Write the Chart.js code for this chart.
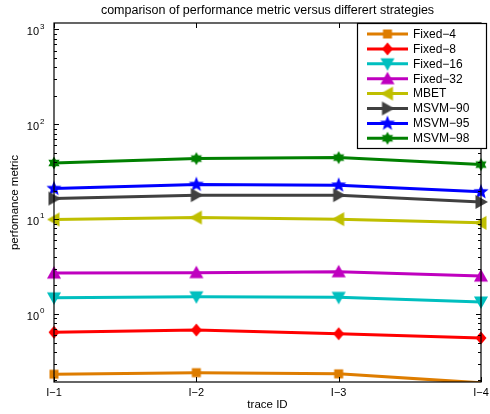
<!DOCTYPE html>
<html>
<head>
<meta charset="utf-8">
<script src="https://cdn.jsdelivr.net/npm/chart.js@4/dist/chart.umd.min.js"></script>
<style>
  html, body { margin: 0; padding: 0; background: #fff; }
  #wrap { width: 490px; height: 414px; }
</style>
</head>
<body>
<div id="wrap"><canvas id="chart" width="490" height="414"></canvas></div>
<script>
// data
const traces = ["I−1", "I−2", "I−3", "I−4"];
const seriesNames = ["Fixed−4", "Fixed−8", "Fixed−16", "Fixed−32", "MBET", "MSVM−90", "MSVM−95", "MSVM−98"];

const fixed4  = [0.232, 0.241, 0.234, 0.188];
const fixed8  = [0.642, 0.678, 0.620, 0.559];
const fixed16 = [1.48, 1.52, 1.50, 1.34];
const fixed32 = [2.70, 2.73, 2.79, 2.51];
const mbet    = [9.93, 10.4, 10.0, 9.14];
const msvm90  = [16.5, 17.9, 17.9, 15.2];
const msvm95  = [21.0, 23.2, 22.8, 19.4];
const msvm98  = [39.1, 43.5, 44.6, 37.6];

const yTicks = [1, 10, 100, 1000];
const yMin = 0.192;
const yMax = 1170;

const FONT = "Liberation Sans, Arial, Helvetica, sans-serif";

function makeMarker(shape, color) {
    const c = document.createElement("canvas");
    c.width = 20;
    c.height = 20;
    const g = c.getContext("2d");
    g.fillStyle = color;
    g.translate(10, 10);
    g.beginPath();
    if (shape === "square") {
        g.rect(-4.5, -4.5, 9, 9);
    } else if (shape === "diamond") {
        g.moveTo(0, -6.5); g.lineTo(5.5, 0); g.lineTo(0, 6.5); g.lineTo(-5.5, 0);
    } else if (shape.startsWith("tri")) {
        const rot = { triUp: 0, triDown: Math.PI, triLeft: -Math.PI / 2, triRight: Math.PI / 2 }[shape];
        g.rotate(rot);
        g.moveTo(0, -7); g.lineTo(7, 5.5); g.lineTo(-7, 5.5);
    } else if (shape === "star5" || shape === "star6") {
        const n = shape === "star5" ? 5 : 6;
        const ro = shape === "star5" ? 8 : 6.5;
        const ri = shape === "star5" ? 3.4 : 3.8;
        for (let i = 0; i < n * 2; i++) {
            const r = i % 2 ? ri : ro;
            const a = -Math.PI / 2 + i * Math.PI / n;
            const px = Math.cos(a) * r, py = Math.sin(a) * r;
            if (i === 0) g.moveTo(px, py); else g.lineTo(px, py);
        }
    }
    g.closePath();
    g.fill();
    return c;
}

const styles = [
    { color: "rgb(222,125,0)", shape: "square" },
    { color: "rgb(255,0,0)", shape: "diamond" },
    { color: "rgb(0,191,191)", shape: "triDown" },
    { color: "rgb(191,0,191)", shape: "triUp" },
    { color: "rgb(191,191,0)", shape: "triLeft" },
    { color: "rgb(64,64,64)", shape: "triRight" },
    { color: "rgb(0,0,255)", shape: "star5" },
    { color: "rgb(0,128,0)", shape: "star6" }
];
const values = [fixed4, fixed8, fixed16, fixed32, mbet, msvm90, msvm95, msvm98];

const datasets = values.map((v, i) => {
    const marker = makeMarker(styles[i].shape, styles[i].color);
    return {
        label: seriesNames[i],
        data: v,
        borderColor: styles[i].color,
        backgroundColor: styles[i].color,
        borderWidth: 3,
        pointStyle: marker,
        marker: marker,
        pointRadius: ctx => (ctx.raw < yMin ? 0 : 6),
        tension: 0,
        clip: { left: 12, top: 12, right: 12, bottom: 0 }
    };
});

const frame = {
    id: "frame",
    afterDraw(chart) {
        const ctx = chart.ctx;
        const a = chart.chartArea;
        const x = chart.scales.x;
        const y = chart.scales.y;
        ctx.save();
        ctx.strokeStyle = "#000";
        ctx.fillStyle = "#000";
        ctx.lineWidth = 1.2;
        ctx.strokeRect(a.left, a.top, a.right - a.left, a.bottom - a.top);

        // y ticks, major and minor, both sides
        ctx.lineWidth = 1;
        for (let d = -1; d <= 3; d++) {
            for (let m = 1; m <= 9; m++) {
                const v = m * Math.pow(10, d);
                if (v < yMin || v > yMax) continue;
                const py = Math.round(y.getPixelForValue(v)) + 0.5;
                const len = m === 1 ? 5 : 3;
                ctx.beginPath();
                ctx.moveTo(a.left, py); ctx.lineTo(a.left + len, py);
                ctx.moveTo(a.right, py); ctx.lineTo(a.right - len, py);
                ctx.stroke();
            }
        }
        // x ticks top and bottom
        traces.forEach((t, i) => {
            const px = Math.round(x.getPixelForValue(i)) + 0.5;
            ctx.beginPath();
            ctx.moveTo(px, a.bottom); ctx.lineTo(px, a.bottom - 5);
            ctx.moveTo(px, a.top); ctx.lineTo(px, a.top + 5);
            ctx.stroke();
        });

        // tick labels
        ctx.font = "11px " + FONT;
        ctx.textAlign = "center";
        ctx.textBaseline = "top";
        traces.forEach((t, i) => {
            ctx.fillText(t, x.getPixelForValue(i), a.bottom + 5);
        });
        yTicks.forEach(v => {
            const py = y.getPixelForValue(v);
            const exp = String(Math.round(Math.log10(v)));
            ctx.font = "11px " + FONT;
            ctx.textAlign = "right";
            ctx.textBaseline = "middle";
            ctx.fillText("10", a.left - 15, py + 3);
            ctx.font = "8px " + FONT;
            ctx.textAlign = "left";
            ctx.fillText(exp, a.left - 14, py - 3);
        });

        // title and axis labels
        ctx.font = "12.5px " + FONT;
        ctx.textAlign = "center";
        ctx.textBaseline = "middle";
        ctx.fillText("comparison of performance metric versus differert strategies", (a.left + a.right) / 2, 11);
        ctx.font = "11.5px " + FONT;
        ctx.fillText("trace ID", (a.left + a.right) / 2, 405);
        ctx.save();
        ctx.translate(15, (a.top + a.bottom) / 2);
        ctx.rotate(-Math.PI / 2);
        ctx.fillText("perfomance metric", 0, 0);
        ctx.restore();

        // legend
        const lx = 357.5, ly = 23.5, lw = 129, lh = 125;
        ctx.fillStyle = "#fff";
        ctx.fillRect(lx, ly, lw, lh);
        ctx.strokeStyle = "#000";
        ctx.lineWidth = 1.2;
        ctx.strokeRect(lx, ly, lw, lh);
        ctx.font = "12px " + FONT;
        ctx.textAlign = "left";
        ctx.textBaseline = "middle";
        chart.data.datasets.forEach((ds, i) => {
            const ey = 34 + i * 14.9;
            ctx.strokeStyle = ds.borderColor;
            ctx.lineWidth = 3;
            ctx.beginPath();
            ctx.moveTo(367, ey); ctx.lineTo(408, ey);
            ctx.stroke();
            const mk = ds.marker;
            ctx.drawImage(mk, 387.5 - mk.width / 2, ey - mk.height / 2);
            ctx.fillStyle = "#000";
            ctx.fillText(ds.label, 413, ey + 0.5);
        });
        ctx.restore();
    }
};

new Chart(document.getElementById("chart"), {
    type: "line",
    data: {
        labels: traces,
        datasets: datasets
    },
    options: {
        responsive: false,
        animation: false,
        events: [],
        layout: { padding: { left: 54, right: 2, top: 23, bottom: 32 } },
        plugins: {
            legend: { display: false },
            title: { display: false },
            tooltip: { enabled: false }
        },
        scales: {
            x: { type: "category", display: false, offset: false },
            y: { type: "logarithmic", display: false, min: yMin, max: yMax }
        }
    },
    plugins: [frame]
});
</script>
</body>
</html>
